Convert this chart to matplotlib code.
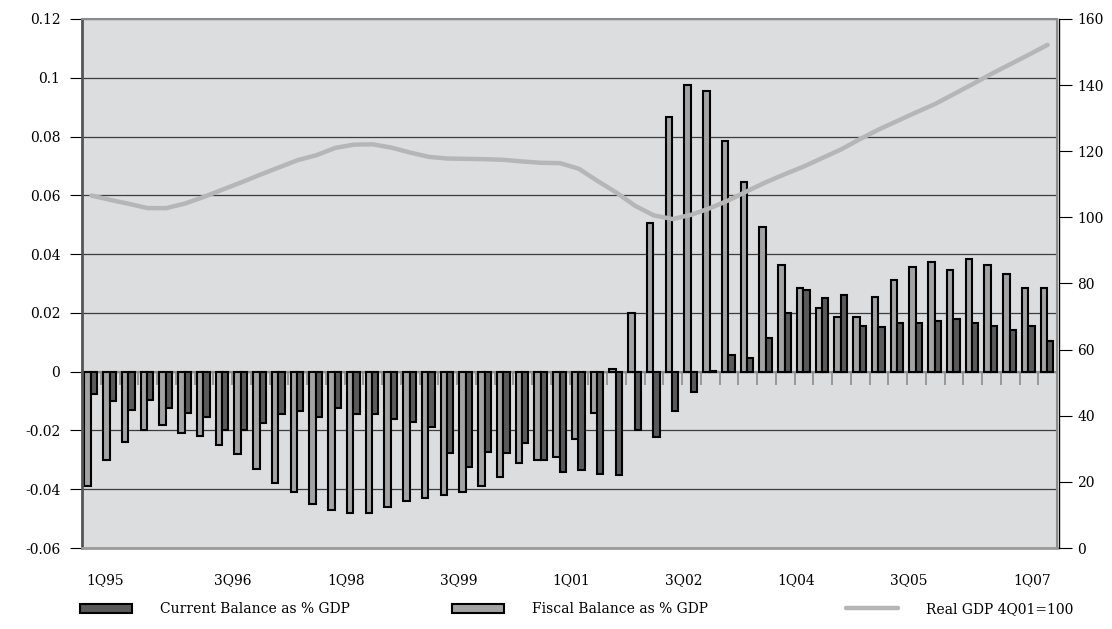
import matplotlib.pyplot as plt
import numpy as np
from matplotlib.patches import Patch
from matplotlib.lines import Line2D
from matplotlib.ticker import FuncFormatter, NullFormatter

plt.rcParams['font.family'] = 'DejaVu Serif'
plt.rcParams['font.size'] = 10

# quarters 1Q95 .. 4Q07
years = ['95', '96', '97', '98', '99', '00', '01', '02', '03', '04', '05', '06', '07']
quarters = [str(q) + 'Q' + y for y in years for q in range(1, 5)]
shown_labels = quarters[::6]

fiscal = [-0.039, -0.030, -0.024, -0.020, -0.018, -0.021, -0.022, -0.025, -0.028, -0.033,
          -0.038, -0.041, -0.045, -0.047, -0.048, -0.048, -0.046, -0.044, -0.043, -0.042,
          -0.041, -0.039, -0.036, -0.031, -0.030, -0.029, -0.023, -0.014, 0.001, 0.020,
          0.0505, 0.0866, 0.0976, 0.0955, 0.0784, 0.0644, 0.0493, 0.0362, 0.0283, 0.0215,
          0.0186, 0.0186, 0.0254, 0.0312, 0.0355, 0.0374, 0.0345, 0.0383, 0.0362, 0.0334,
          0.0283, 0.0283]

current = [-0.0075, -0.010, -0.013, -0.0098, -0.0122, -0.0141, -0.0155, -0.020, -0.020, -0.0175,
           -0.0144, -0.0133, -0.0155, -0.0122, -0.0144, -0.0144, -0.016, -0.017, -0.0189, -0.0277,
           -0.0323, -0.0274, -0.0277, -0.0243, -0.030, -0.0343, -0.0334, -0.0349, -0.0351, -0.0198,
           -0.0223, -0.0135, -0.0069, 0.0003, 0.0056, 0.0045, 0.0114, 0.0201, 0.0278, 0.025,
           0.026, 0.0156, 0.0151, 0.0167, 0.0164, 0.0173, 0.0178, 0.0167, 0.0156, 0.0141,
           0.0156, 0.0104]

gdp = [106.6, 105.3, 104.1, 102.8, 102.8, 104.2, 106.2, 108.4, 110.6, 112.9,
       115.1, 117.3, 118.8, 121.0, 122.0, 122.1, 121.1, 119.6, 118.3, 117.8,
       117.7, 117.6, 117.4, 116.9, 116.5, 116.4, 114.7, 111.0, 107.5, 103.5,
       100.6, 99.5, 100.8, 102.8, 105.2, 108.0, 110.7, 113.1, 115.4, 118.0,
       120.6, 123.7, 126.6, 129.2, 131.8, 134.3, 137.3, 140.3, 143.4, 146.3,
       149.2, 152.2]

c_current = '#5a5a5a'
c_fiscal = '#a3a3a3'
c_gdp = '#b6b6b6'

x = np.arange(len(quarters))

fig = plt.figure(figsize=(11.12, 6.29), dpi=100)
ax = fig.add_axes([82 / 1112, 1 - 548 / 629, 975 / 1112, 529 / 629])
ax.set_facecolor('#dcdddf')

w = 0.34
ax.bar(x - 0.2, fiscal, width=w, color=c_fiscal, edgecolor='black', linewidth=1.5, zorder=2)
ax.bar(x + 0.14, current, width=w, color=c_current, edgecolor='black', linewidth=1.5, zorder=2)

ax.set_xlim(-0.5, len(quarters) - 0.5)
ax.set_ylim(-0.06, 0.12)
ax.set_yticks(np.linspace(-0.06, 0.12, 10))
ax.yaxis.set_major_formatter(FuncFormatter(lambda v, p: '%g' % (round(v, 2) + 0.0)))
ax.set_axisbelow(True)
ax.yaxis.grid(True, color='#3c3c3c', linewidth=0.9)
ax.tick_params(axis='y', direction='out', length=8.6, width=0.8, color='black', pad=7)

# x labels (Excel placed them between categories)
label_pos = [0.73, 7.55, 13.58, 19.6, 25.6, 31.6, 37.6, 43.6, 50.17]
ax.set_xticks(label_pos)
ax.set_xticklabels(shown_labels)
ax.tick_params(axis='x', length=0, pad=18)

for s in ['top', 'right']:
    ax.spines[s].set_color('#8c8c8c')
    ax.spines[s].set_linewidth(1.5)
ax.spines['bottom'].set_color('#9a9a9a')
ax.spines['bottom'].set_linewidth(2)
ax.spines['left'].set_color('#555555')
ax.spines['left'].set_linewidth(2)

# category axis crossing at zero
sec = ax.secondary_xaxis(1 / 3)
sec.set_zorder(1.5)
sec.set_xticks(np.arange(-0.5, len(quarters), 1))
sec.xaxis.set_major_formatter(NullFormatter())
sec.tick_params(direction='out', length=9.5, width=1.2, color='#8c8c8c')
sec.spines['bottom'].set_color('#8c8c8c')
sec.spines['bottom'].set_linewidth(1.5)

ax2 = ax.twinx()
ax2.plot(x, gdp, color=c_gdp, linewidth=3.2, solid_capstyle='round', solid_joinstyle='round')
ax2.set_ylim(0, 160)
ax2.set_yticks(np.arange(0, 161, 20))
ax2.tick_params(axis='y', direction='out', length=9, width=0.8, color='black', pad=4)
for s in ['top', 'bottom', 'left']:
    ax2.spines[s].set_visible(False)
ax2.spines['right'].set_color('black')
ax2.spines['right'].set_linewidth(1)
ax2.spines['right'].set_position(('outward', 1.5))

# legend, one entry each
handles = [
    Patch(facecolor=c_current, edgecolor='black', linewidth=1.5),
    Patch(facecolor=c_fiscal, edgecolor='black', linewidth=1.5),
    Line2D([], [], color=c_gdp, linewidth=3.2, solid_capstyle='round'),
]
names = ['Current Balance as % GDP', 'Fiscal Balance as % GDP', 'Real GDP 4Q01=100']
xs = [80 / 1112, 452 / 1112, 846 / 1112]
for h, n, xx in zip(handles, names, xs):
    fig.legend([h], [n], loc='center left', bbox_to_anchor=(xx, 1 - 609 / 629),
               frameon=False, borderpad=0, borderaxespad=0,
               handlelength=3.75, handletextpad=2.0, handleheight=0.6)

fig.savefig('out.png', dpi=100)
